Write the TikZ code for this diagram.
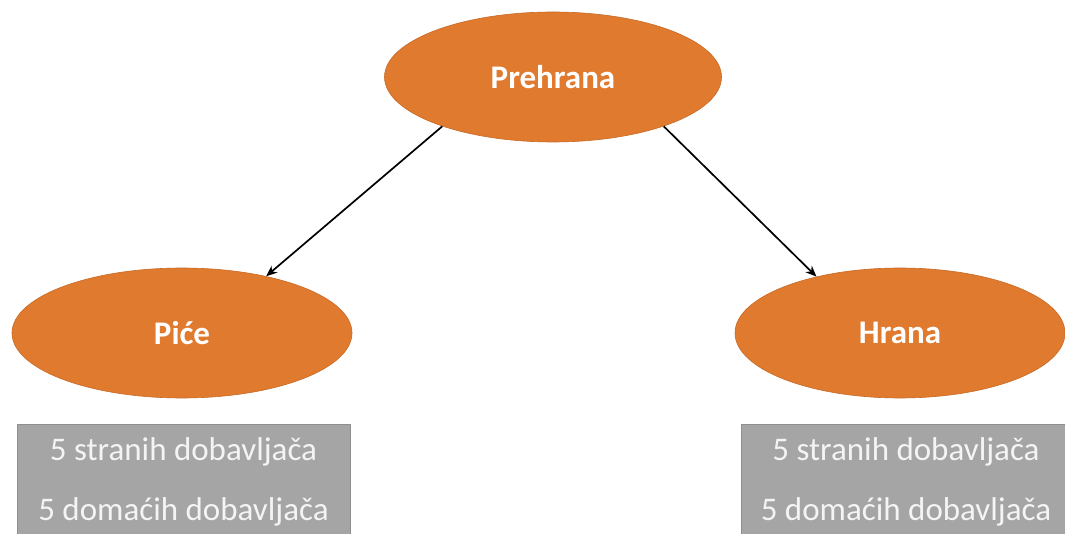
\documentclass[tikz,border=0pt]{standalone}
\usepackage{fontspec}
\setmainfont{Carlito}
\usetikzlibrary{shapes.geometric,arrows.meta}
\definecolor{narancasta}{HTML}{DF7A2E}
\definecolor{narancastarub}{HTML}{C86A26}
\definecolor{siva}{HTML}{A5A5A5}
\definecolor{sivarub}{HTML}{8F8F8F}
\definecolor{svijetla}{HTML}{F4F4F4}
\begin{document}
\begin{tikzpicture}
  [x=1pt,y=-1pt,
   every node/.style={ellipse,fill=narancasta,draw=narancastarub,line width=.6pt,
     text=white,inner sep=0pt,font=\bfseries\fontsize{33}{38}\selectfont},
   lista/.style={rectangle,fill=siva,draw=sivarub,text=svijetla,align=center,
     minimum width=333,minimum height=116,anchor=north,
     font=\mdseries\fontsize{33}{60}\selectfont}]
  \useasboundingbox (0,0) rectangle (1065,534);
  \clip (0,0) rectangle (1065,534);
  \node[minimum width=337,minimum height=130] (pre)   at (553,77)  {Prehrana};
  \node[minimum width=340,minimum height=130] (pice)  at (182,333) {Pi\'ce};
  \node[minimum width=330,minimum height=130] (hrana) at (900,333) {Hrana};
  \node[lista] (lpice)  at (183.5,424) {5 stranih dobavljača\\5 domaćih dobavljača};
  \node[lista,minimum width=330] (lhrana) at (906,424) {5 stranih dobavljača\\5 domaćih dobavljača};
  \foreach \from/\to in {pre.204/pice.34,pre.336/hrana.146}
    \draw[line width=1.7pt,-{Stealth[length=11pt,width=9pt]}] (\from) -- (\to);
\end{tikzpicture}
\end{document}
